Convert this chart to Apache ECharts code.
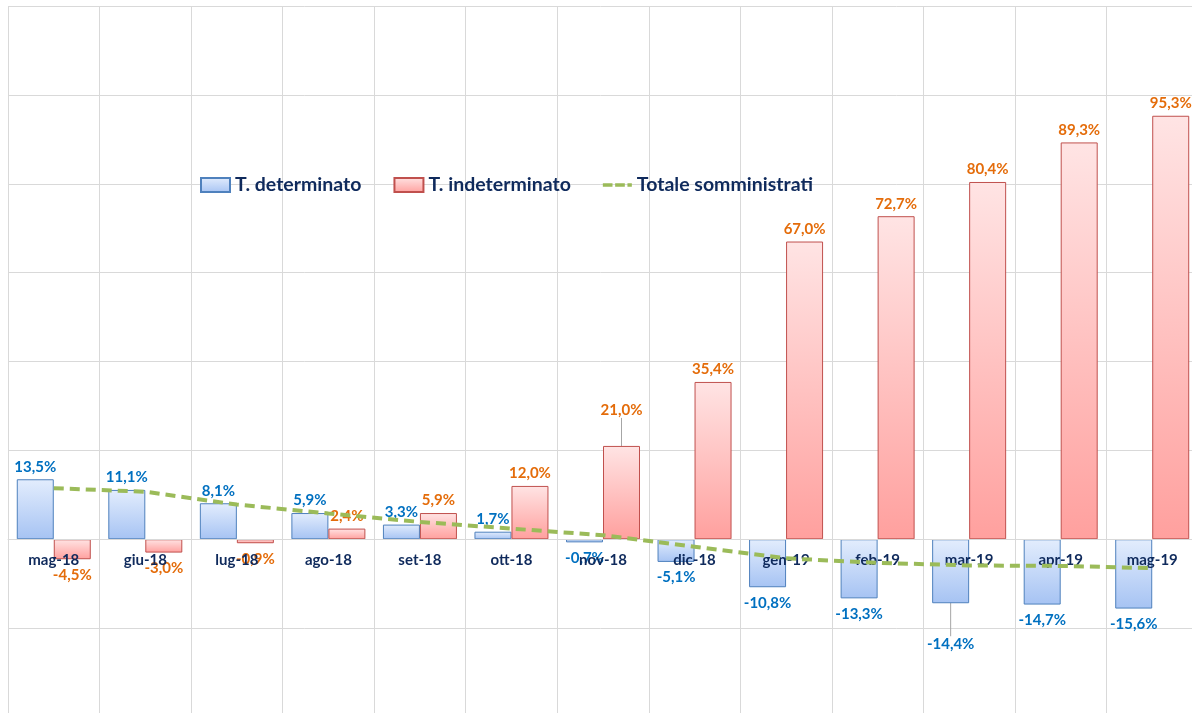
<!DOCTYPE html>
<html>
<head>
<meta charset="utf-8">
<script src="https://cdn.jsdelivr.net/npm/echarts@6/dist/echarts.min.js"></script>
<style>
html,body{margin:0;padding:0;background:#fff;}
#chart{width:1192px;height:713px;}
</style>
</head>
<body>
<div id="chart"></div>
<script>
const categories = ['mag-18','giu-18','lug-18','ago-18','set-18','ott-18','nov-18','dic-18','gen-19','feb-19','mar-19','apr-19','mag-19'];
const determinato = [13.5, 11.1, 8.1, 5.9, 3.3, 1.7, -0.7, -5.1, -10.8, -13.3, -14.4, -14.7, -15.6];
const indeterminato = [-4.5, -3.0, -0.9, 2.4, 5.9, 12.0, 21.0, 35.4, 67.0, 72.7, 80.4, 89.3, 95.3];
const totale = [11.5, 10.7, 7.8, 5.8, 3.9, 2.4, 0.9, -1.7, -4.3, -5.3, -5.9, -6.0, -6.5];
const seriesNames = ['T. determinato', 'T. indeterminato', 'Totale somministrati'];
const yMin = -40, yMax = 120, yStep = 20;

const FONT = 'Lato, "Open Sans", sans-serif';
const fmt = v => v.toFixed(1).replace('.', ',') + '%';

// index of the label that is pulled away from its bar (with a leader line)
const movedDet = 10, movedInd = 6;

function barData(arr, movedIdx) {
  return arr.map((v, i) => ({
    value: v,
    label: v >= 0 ? { position: 'top', distance: 5 } : { position: 'bottom', distance: 8 },
    labelLine: { show: i === movedIdx }
  }));
}

const chart = echarts.init(document.getElementById('chart'), null, {renderer: 'canvas'});
chart.setOption({
  animation: false,
  backgroundColor: '#ffffff',
  grid: { left: 8, width: 1190, top: 6, height: 711, containLabel: false, outerBoundsMode: 'none' },
  legend: {
    left: 200, top: 175, padding: 0,
    itemWidth: 29, itemHeight: 14, itemGap: 32,
    textStyle: { fontFamily: FONT, fontSize: 19.5, fontWeight: 'bold', color: '#0F2A5C' },
    data: [
      { name: seriesNames[0], icon: 'rect' },
      { name: seriesNames[1], icon: 'rect' },
      { name: seriesNames[2], icon: 'path://M0,0h11v4h-11z M14,0h11v4h-11z M28,0h5v4h-5z' }
    ]
  },
  xAxis: {
    type: 'category',
    data: categories,
    position: 'bottom',
    offset: 0,
    z: 3,
    axisLine: { onZero: false, lineStyle: { color: '#d9d9d9', width: 1 } },
    axisTick: { show: false },
    axisLabel: { margin: 13, fontFamily: FONT, fontSize: 15, fontWeight: 'bold', color: '#0F2A5C' },
    splitLine: { show: true, lineStyle: { color: '#d9d9d9', width: 1 } }
  },
  yAxis: {
    type: 'value',
    min: yMin, max: yMax, interval: yStep,
    axisLabel: { show: false },
    axisLine: { show: false },
    axisTick: { show: false },
    splitLine: { lineStyle: { color: '#d9d9d9', width: 1 } }
  },
  series: [
    {
      name: seriesNames[0],
      type: 'bar',
      data: barData(determinato, movedDet),
      barWidth: 37,
      barGap: '0%',
      itemStyle: {
        color: new echarts.graphic.LinearGradient(0, 0, 0, 1, [
          { offset: 0, color: '#e3edfd' },
          { offset: 1, color: '#a6c3f3' }
        ]),
        borderColor: '#4F81BD', borderWidth: 1
      },
      label: {
        show: true,
        formatter: p => fmt(p.value),
        fontFamily: FONT, fontSize: 15, fontWeight: 'bold', color: '#0070C0'
      },
      labelLayout: p => (p.dataIndex === movedDet ? { dy: 25 } : null),
      labelLine: { show: false, lineStyle: { color: '#a6a6a6', width: 1 } }
    },
    {
      name: seriesNames[1],
      type: 'bar',
      data: barData(indeterminato, movedInd),
      barWidth: 37,
      barGap: '0%',
      itemStyle: {
        color: new echarts.graphic.LinearGradient(0, 0, 0, 1, [
          { offset: 0, color: '#ffe4e4' },
          { offset: 1, color: '#ffa09e' }
        ]),
        borderColor: '#C0504D', borderWidth: 1
      },
      label: {
        show: true,
        formatter: p => fmt(p.value),
        fontFamily: FONT, fontSize: 15, fontWeight: 'bold', color: '#E46C0A'
      },
      labelLayout: p => (p.dataIndex === movedInd ? { dy: -23 } : null),
      labelLine: { show: false, lineStyle: { color: '#a6a6a6', width: 1 } }
    },
    {
      name: seriesNames[2],
      type: 'line',
      data: totale,
      z: 5,
      symbol: 'none',
      lineStyle: { color: '#9BBB59', width: 4, type: [10, 6] },
      itemStyle: { color: '#9BBB59' }
    }
  ]
});

// place the category axis on the zero line (value read through the y scale)
const yZero = chart.convertToPixel({ yAxisIndex: 0 }, 0);
const yBottom = chart.convertToPixel({ yAxisIndex: 0 }, yMin);
chart.setOption({ xAxis: { offset: yZero - yBottom } });
</script>
</body>
</html>
